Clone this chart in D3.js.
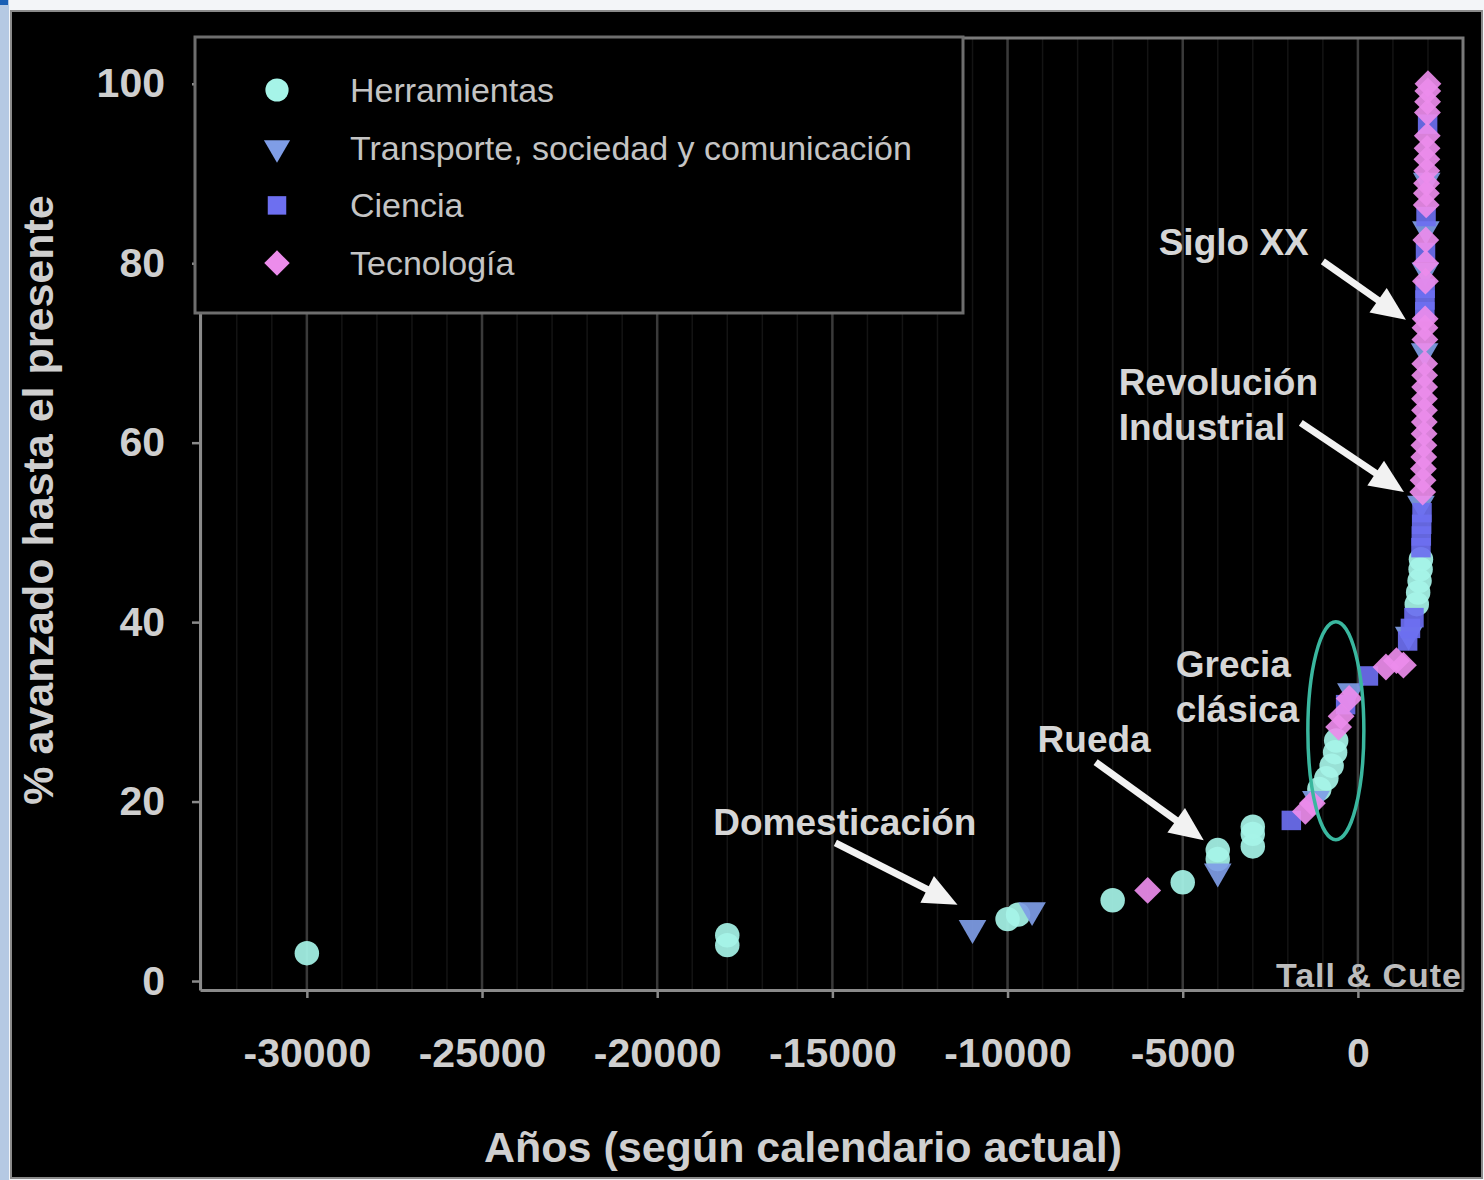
<!DOCTYPE html>
<html>
<head>
<meta charset="utf-8">
<script src="https://cdn.jsdelivr.net/npm/d3@7"></script>
<style>
body{margin:0;background:#fff;}
svg{display:block;}
text{font-family:Arial,"Liberation Sans",sans-serif;}
</style>
</head>
<body>
<svg width="1484" height="1180"></svg>
<script>
// data: [year, % avanzado]
const herramientas = [
  [-30000, 3.1], [-18000, 4.0], [-18000, 5.1], [-10000, 6.9], [-9700, 7.4],
  [-7000, 9.0], [-5000, 11.0], [-4000, 13.6], [-4000, 14.6], [-3000, 15.0], [-3000, 16.4], [-3000, 17.2],
  [-1100, 21.4], [-900, 22.6], [-750, 24.0], [-650, 25.5], [-620, 26.8],
  [1680, 42.0], [1720, 43.3], [1760, 44.6], [1790, 45.9], [1800, 47.0]
];
const transporte = [
  [-11000, 5.9], [-9300, 7.9], [-4000, 12.2], [-1200, 20.3], [-200, 32.3], [1450, 38.6],
  [1800, 53.2], [1905, 70.2], [1925, 79.2], [1940, 83.8], [1965, 89.2]
];
const ciencia = [
  [-1900, 17.9], [-350, 30.8], [300, 34.0], [1420, 37.9], [1500, 39.3], [1600, 40.5],
  [1800, 48.3], [1810, 49.6], [1820, 50.9], [1830, 52.2], [1910, 74.6], [1915, 75.9],
  [1920, 77.2], [1930, 81.2], [1945, 85.2], [1990, 95.5]
];
const tecnologia = [
  [-6000, 10.1], [-1500, 18.9], [-1300, 19.8], [-550, 28.3], [-480, 29.5], [-250, 31.5],
  [800, 35.0], [1100, 35.7], [1300, 35.2], [1850, 54.5], [1860, 55.8], [1870, 57.1],
  [1880, 58.4], [1885, 59.7], [1890, 61.0], [1895, 62.3], [1900, 63.6], [1900, 64.9],
  [1905, 66.2], [1905, 67.5], [1908, 68.8], [1912, 71.5], [1915, 72.8], [1920, 73.8],
  [1928, 78.0], [1935, 80.0], [1938, 82.6], [1950, 86.5], [1955, 87.8], [1960, 88.9],
  [1965, 90.3], [1970, 91.6], [1975, 92.8], [1980, 94.2], [1985, 96.8], [1990, 98.0],
  [1995, 99.2], [2000, 100.0]
];
const seriesNames = ["Herramientas", "Transporte, sociedad y comunicación", "Ciencia", "Tecnología"];
const xTicks = [-30000, -25000, -20000, -15000, -10000, -5000, 0];
const yTicks = [0, 20, 40, 60, 80, 100];
const xTitle = "Años (según calendario actual)";
const yTitle = "% avanzado hasta el presente";

const render = () => {
  const svg = d3.select('svg');
  const width = +svg.attr('width');
  const height = +svg.attr('height');
  const margin = {top: 38, right: 21, bottom: 190, left: 200};

//page frame
  svg.append('rect').attr('width', width).attr('height', height).attr('fill', '#f3f5f8');
  svg.append('rect').attr('x', 0).attr('y', 0).attr('width', 9).attr('height', height).attr('fill', '#b5c9e3');
  svg.append('rect').attr('x', 0).attr('y', 0).attr('width', 8).attr('height', 5).attr('fill', '#1a5fb4');
  svg.append('rect').attr('x', 11).attr('y', 11).attr('width', width - 13).attr('height', height - 13)
    .attr('fill', '#000').attr('stroke', '#8a8a8a').attr('stroke-width', 2);

//scales
  const xScale = d3.scaleLinear().domain([-33050, 3000]).range([margin.left, width - margin.right]);
  const yScale = d3.scaleLinear().domain([-1, 105.1]).range([height - margin.bottom, margin.top]);
  const x0 = margin.left, x1 = width - margin.right;
  const y0 = height - margin.bottom, y1 = margin.top;

//grid
  svg.append('g').selectAll('line').data(d3.range(-33000, 3001, 1000))
    .enter().append('line')
    .attr('x1', d => xScale(d)).attr('x2', d => xScale(d))
    .attr('y1', y1).attr('y2', y0)
    .attr('stroke', '#141414').attr('stroke-width', 1.5);
  svg.append('g').selectAll('line').data(xTicks)
    .enter().append('line')
    .attr('x1', d => xScale(d)).attr('x2', d => xScale(d))
    .attr('y1', y1).attr('y2', y0)
    .attr('stroke', '#3a3a3a').attr('stroke-width', 2.5);

//frame
  svg.append('path')
    .attr('d', `M${x0},${y1}H${x1}V${y0}`)
    .attr('fill', 'none').attr('stroke', '#7a7a7a').attr('stroke-width', 3);

//axes
  const xAxis = d3.axisBottom(xScale).tickValues(xTicks).tickSize(8).tickSizeOuter(0).tickPadding(40);
  const yAxis = d3.axisLeft(yScale).tickValues(yTicks).tickSize(8).tickSizeOuter(0).tickPadding(27);
  const gx = svg.append('g').attr('transform', `translate(0,${y0})`).call(xAxis);
  const gy = svg.append('g').attr('transform', `translate(${x0},0)`).call(yAxis);
  [gx, gy].forEach(g => {
    g.select('.domain').attr('stroke', '#8a8a8a').attr('stroke-width', 3);
    g.selectAll('.tick line').attr('stroke', '#8a8a8a').attr('stroke-width', 2.5);
    g.selectAll('.tick text').attr('fill', '#cfcfcf').attr('font-size', 41).attr('font-weight', 'bold')
      .style('font-family', 'Arial, "Liberation Sans", sans-serif');
  });
  gx.selectAll('.tick text').text(d => d < 0 ? '-' + Math.abs(d) : d);

  svg.append('text').text(xTitle)
    .attr('x', 803).attr('y', 1162).attr('text-anchor', 'middle')
    .attr('fill', '#cfcfcf').attr('font-size', 43).attr('font-weight', 'bold');
  svg.append('text').text(yTitle)
    .attr('transform', 'translate(53,500) rotate(-90)').attr('text-anchor', 'middle')
    .attr('fill', '#cfcfcf').attr('font-size', 43).attr('font-weight', 'bold');

//legend
  const series = [
    {name: seriesNames[0], data: herramientas, type: d3.symbolCircle, size: 470, rot: 0, color: '#a6f4e8'},
    {name: seriesNames[1], data: transporte, type: d3.symbolTriangle, size: 330, rot: 180, color: '#7f9de6'},
    {name: seriesNames[2], data: ciencia, type: d3.symbolSquare, size: 380, rot: 0, color: '#6d6ff0'},
    {name: seriesNames[3], data: tecnologia, type: d3.symbolSquare, size: 360, rot: 45, color: '#ec8ceb'}
  ];
  const legend = svg.append('g');
  legend.append('rect').attr('x', 195).attr('y', 37).attr('width', 768).attr('height', 276)
    .attr('fill', '#000').attr('stroke', '#6e6e6e').attr('stroke-width', 3);
  const rows = legend.selectAll('g.row').data(series).enter().append('g')
    .attr('transform', (d, i) => `translate(277,${90 + i * 57.7})`);
  rows.append('path')
    .attr('d', d => d3.symbol().type(d.type).size(d.size * 0.9)())
    .attr('transform', d => `rotate(${d.rot})`)
    .attr('fill', d => d.color);
  rows.append('text').text(d => d.name)
    .attr('x', 73).attr('dy', '0.35em')
    .attr('fill', '#c4c4c4').attr('font-size', 34);

//points
  series.forEach(s => {
    svg.append('g').selectAll('path').data(s.data)
      .enter().append('path')
      .attr('d', d3.symbol().type(s.type).size(s.size)())
      .attr('transform', d => `translate(${xScale(d[0])},${yScale(d[1])}) rotate(${s.rot})`)
      .attr('fill', s.color)
      .attr('fill-opacity', 0.92);
  });

//annotations
  const ann = svg.append('g');
  ann.append('ellipse')
    .attr('cx', xScale(-629)).attr('cy', yScale(27.9))
    .attr('rx', 28).attr('ry', 109)
    .attr('fill', 'none').attr('stroke', '#3ab79f').attr('stroke-width', 3.5);

  const labels = [
    {lines: ['Siglo XX'], year: -5686, pct: 80.9},
    {lines: ['Revolución', 'Industrial'], year: -6829, pct: 65.3},
    {lines: ['Grecia', 'clásica'], year: -5200, pct: 33.9},
    {lines: ['Rueda'], year: -9143, pct: 25.5},
    {lines: ['Domesticación'], year: -18400, pct: 16.3}
  ];
  labels.forEach(l => {
    const t = ann.append('text')
      .attr('x', xScale(l.year)).attr('y', yScale(l.pct))
      .attr('fill', '#d6d6d6').attr('font-size', 37).attr('font-weight', 'bold');
    l.lines.forEach((s, i) => t.append('tspan').attr('x', xScale(l.year)).attr('dy', i ? 45 : 0).text(s));
  });
  ann.append('text').text('Tall & Cute')
    .attr('x', 1462).attr('y', 987).attr('text-anchor', 'end')
    .attr('fill', '#bdbdbd').attr('font-size', 34).attr('font-weight', 'bold').attr('letter-spacing', 1);

  const arrows = [
    [[-1000, 80.2], [1371, 73.7]],
    [[-1629, 62.2], [1314, 54.5]],
    [[-7486, 24.4], [-4400, 15.7]],
    [[-14914, 15.4], [-11429, 8.5]]
  ];
  arrows.forEach(a => {
    const sx = xScale(a[0][0]), sy = yScale(a[0][1]);
    const ex = xScale(a[1][0]), ey = yScale(a[1][1]);
    const len = Math.hypot(ex - sx, ey - sy);
    const ux = (ex - sx) / len, uy = (ey - sy) / len;
    const head = 34, half = 15;
    const bx = ex - ux * head, by = ey - uy * head;
    ann.append('line')
      .attr('x1', sx).attr('y1', sy).attr('x2', bx + ux * 4).attr('y2', by + uy * 4)
      .attr('stroke', '#f2f2f2').attr('stroke-width', 7);
    ann.append('path')
      .attr('d', `M${ex},${ey}L${bx - uy * half},${by + ux * half}L${bx + uy * half},${by - ux * half}Z`)
      .attr('fill', '#f2f2f2');
  });
};

render();
</script>
</body>
</html>
